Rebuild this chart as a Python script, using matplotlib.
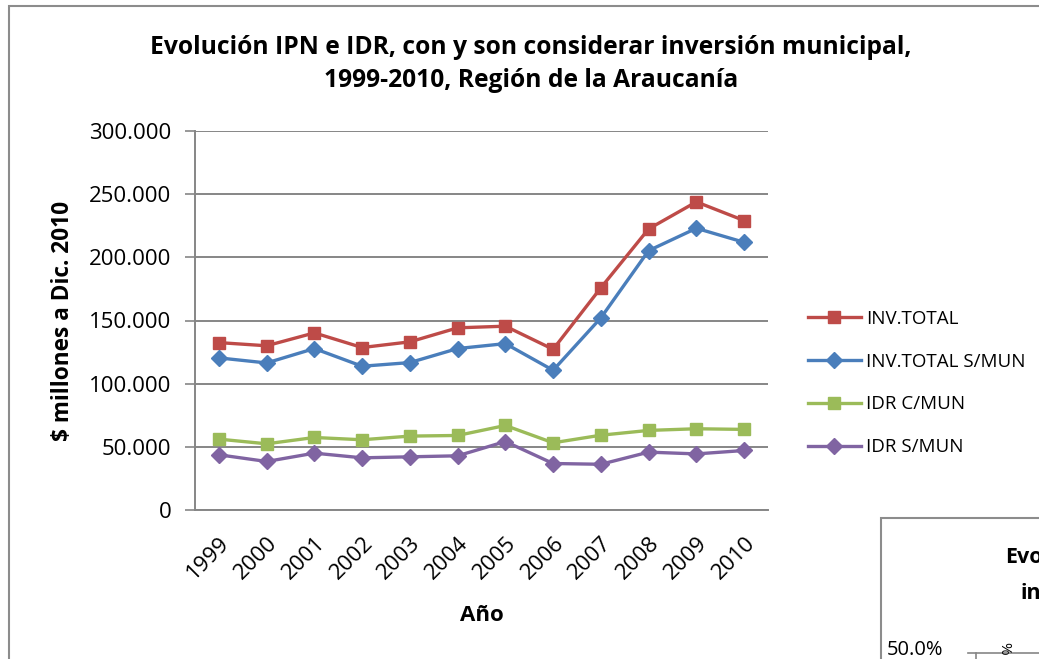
import matplotlib
matplotlib.use("Agg")
import matplotlib.pyplot as plt
from matplotlib.patches import Rectangle
from matplotlib.lines import Line2D
from matplotlib.ticker import FuncFormatter

# --- DATA ($ millones) ---
years = ["1999", "2000", "2001", "2002", "2003", "2004",
         "2005", "2006", "2007", "2008", "2009", "2010"]
inv_total = [132500, 130000, 140200, 128600, 133100, 144200,
             145500, 127200, 175900, 222500, 243900, 229100]
inv_total_smun = [120400, 116400, 127800, 113800, 116700, 127800,
                  131700, 110600, 152100, 205300, 223000, 211900]
idr_cmun = [56100, 52400, 57400, 55600, 58500, 59000,
            66900, 53200, 59200, 63000, 64300, 63800]
idr_smun = [43700, 38400, 45000, 41300, 42100, 42900,
            54200, 36800, 36200, 45800, 44400, 47100]

series = [
    ("INV.TOTAL", inv_total, "#BE4B48", "s", 9),
    ("INV.TOTAL S/MUN", inv_total_smun, "#4A7EBB", "D", 8),
    ("IDR C/MUN", idr_cmun, "#9BBB59", "s", 9),
    ("IDR S/MUN", idr_smun, "#8064A2", "D", 8),
]

W, H = 1039, 659
plt.rcParams["font.family"] = ["Open Sans", "DejaVu Sans"]
GRID = "#868686"
BORDER = "#8c8c8c"


def fx(px):
    return px / W


def fy(py):
    return 1 - py / H


fig = plt.figure(figsize=(W / 100, H / 100), dpi=100)

# outer chart border (cropped at the right and bottom)
fig.add_artist(Rectangle((fx(9), fy(700)), fx(1100), fy(6) - fy(700),
                         transform=fig.transFigure, fill=False,
                         edgecolor=BORDER, linewidth=1.5))

# --- main plot ---
ax = fig.add_axes([fx(195), fy(510), fx(768) - fx(195), fy(131) - fy(510)])
x = list(range(len(years)))
for label, vals, color, marker, ms in series:
    ax.plot(x, vals, color=color, linewidth=2.4, marker=marker,
            markersize=ms, label=label)

ax.set_xlim(-0.5, len(years) - 0.5)
ax.set_ylim(0, 300000)
ax.set_yticks(range(0, 300001, 50000))
ax.yaxis.set_major_formatter(FuncFormatter(
    lambda v, p: "0" if v == 0 else f"{int(v):,}".replace(",", ".")))
ax.set_xticks(x)
ax.set_xticklabels(years, rotation=45, ha="right", rotation_mode="anchor")
ax.tick_params(axis="x", length=0, pad=16, labelsize=16)
ax.tick_params(axis="y", length=7, width=1.2, color=GRID, labelsize=16, pad=10)
ax.grid(axis="y", color=GRID, linewidth=1.4)
ax.set_axisbelow(True)
for side in ["top", "right"]:
    ax.spines[side].set_visible(False)
for side in ["left", "bottom"]:
    ax.spines[side].set_color(GRID)
    ax.spines[side].set_linewidth(1.4)

ax.set_ylabel("$ millones a Dic. 2010", fontsize=16.3, fontweight="bold", labelpad=10)
ax.set_xlabel("Año", fontsize=16, fontweight="bold", labelpad=16)

fig.text(fx(531), fy(54), "Evolución IPN e IDR, con y son considerar inversión municipal,",
         ha="center", va="baseline", fontsize=17.7, fontweight="bold")
fig.text(fx(531), fy(87), "1999-2010, Región de la Araucanía",
         ha="center", va="baseline", fontsize=17.7, fontweight="bold")

fig.legend(loc="center left", bbox_to_anchor=(fx(808), fy(383)), frameon=False,
           fontsize=13.5, handlelength=2.8, labelspacing=1.32, handletextpad=0.3,
           borderpad=0, borderaxespad=0)

# --- second chart: only its top-left corner is visible in the crop ---
fig.add_artist(Rectangle((fx(881), fy(700)), fx(400), fy(518) - fy(700),
                         transform=fig.transFigure, fill=False,
                         edgecolor=BORDER, linewidth=1.5))
fig.text(fx(1005), fy(563), "Evo", ha="left", va="baseline",
         fontsize=15.5, fontweight="bold")
fig.text(fx(1021), fy(599), "in", ha="left", va="baseline",
         fontsize=15.5, fontweight="bold")
fig.text(fx(887), fy(655), "50.0%", ha="left", va="baseline", fontsize=14.5)
fig.add_artist(Line2D([fx(968), fx(1039)], [fy(653), fy(653)],
                      transform=fig.transFigure, color=GRID, linewidth=1.2))
fig.add_artist(Line2D([fx(976), fx(976)], [fy(653), fy(660)],
                      transform=fig.transFigure, color=GRID, linewidth=1.2))
fig.text(fx(1004), fy(648), "%", ha="center", va="center", fontsize=11,
         rotation=-90)

fig.savefig("out.png", dpi=100)
